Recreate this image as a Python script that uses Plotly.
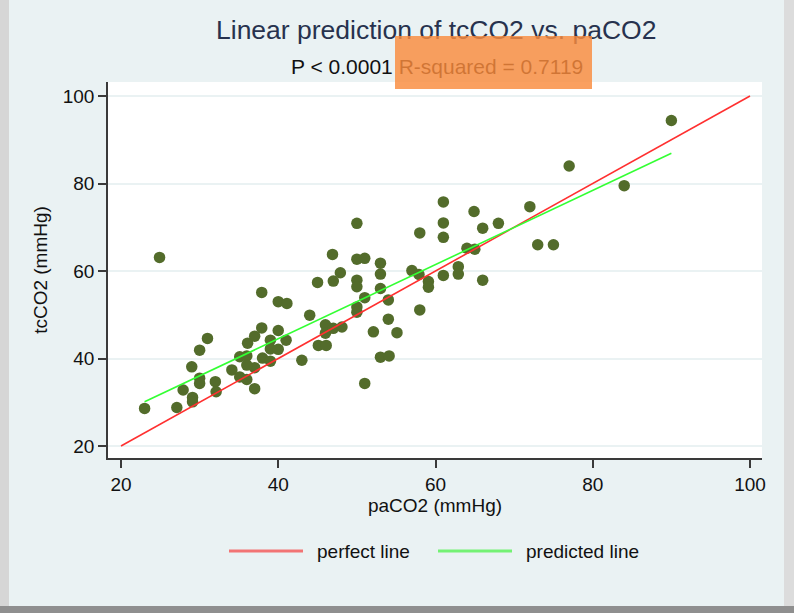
import plotly.graph_objects as go

# ---- data ----
paco2 = [23.0, 24.9, 27.1, 27.9, 29.0, 29.1, 29.1, 30.0, 30.0, 30.0,
         31.0, 32.0, 32.1, 34.1, 35.1, 36.0, 35.1, 36.0, 36.1, 37.0,
         37.9, 37.0, 37.0, 36.0, 37.9, 40.0, 41.1, 45.0, 47.0, 44.0,
         40.0, 39.0, 39.0, 41.0, 40.0, 38.0, 39.0, 43.0, 46.0, 46.0,
         47.0, 48.1, 45.1, 46.1, 46.9, 47.9, 50.0, 51.0, 53.0, 53.0,
         53.0, 50.0, 50.0, 51.0, 54.0, 50.0, 50.0, 54.0, 52.1, 55.1,
         57.0, 57.9, 58.0, 53.0, 54.1, 51.0, 50.0, 58.0, 61.0, 61.0,
         61.0, 64.9, 66.0, 68.0, 64.0, 65.0, 59.1, 59.1, 61.0, 62.9,
         62.9, 66.0, 72.0, 73.0, 75.0, 77.0, 84.0, 90.0]
tcco2 = [28.6, 63.1, 28.8, 32.8, 38.1, 31.1, 30.1, 35.5, 34.3, 41.9,
         44.6, 34.7, 32.4, 37.4, 40.4, 40.6, 35.8, 35.2, 43.5, 45.1,
         47.0, 33.1, 37.9, 38.5, 55.1, 53.0, 52.6, 57.4, 57.7, 49.9,
         46.4, 44.2, 42.2, 44.2, 42.1, 40.1, 39.4, 39.6, 47.7, 45.8,
         46.9, 47.2, 43.0, 43.0, 63.8, 59.6, 62.7, 62.9, 61.8, 59.3,
         56.0, 57.9, 56.4, 53.9, 53.4, 51.8, 50.6, 49.0, 46.1, 45.9,
         60.1, 59.2, 51.1, 40.3, 40.6, 34.3, 70.9, 68.7, 75.8, 71.0,
         67.7, 73.6, 69.8, 70.9, 65.2, 65.0, 57.6, 56.3, 59.0, 61.0,
         59.3, 57.9, 74.7, 66.0, 66.0, 84.0, 79.5, 94.4]
perfect_x = [20, 100]
perfect_y = [20, 100]
pred_x = [23, 90]
pred_y = [30.1, 86.9]
x_ticks = [20, 40, 60, 80, 100]
y_ticks = [20, 40, 60, 80, 100]

title_text = "Linear prediction of tcCO2 vs. paCO2"
p_text = "P < 0.0001"
r2_text = "R-squared = 0.7119"
x_title = "paCO2 (mmHg)"
y_title = "tcCO2 (mmHg)"
legend_names = ["perfect line", "predicted line"]

# ---- layout helpers (pixel -> paper) ----
W, H = 794, 613
PL, PR, PT, PB = 108, 762, 82, 458
def xp(px):
    return (px - PL) / (PR - PL)
def yp(py):
    return (PB - py) / (PB - PT)

FONT = "Liberation Sans, Arial, sans-serif"
BG = "#eaf2f3"
RED = "#ff3030"
GREEN = "#33ff33"
DOT = "#536c2b"

fig = go.Figure()
fig.add_trace(go.Scatter(x=paco2, y=tcco2, mode="markers",
                         marker=dict(color=DOT, size=11.5, line=dict(width=0)),
                         showlegend=False, hoverinfo="x+y"))
fig.add_trace(go.Scatter(x=perfect_x, y=perfect_y, mode="lines",
                         line=dict(color=RED, width=1.6), name=legend_names[0],
                         showlegend=False))
fig.add_trace(go.Scatter(x=pred_x, y=pred_y, mode="lines",
                         line=dict(color=GREEN, width=1.6), name=legend_names[1],
                         showlegend=False))

x_range = [20 + (PL - 121) / 7.8625, 20 + (PR - 121) / 7.8625]
y_range = [20 - (PB - 446) / 4.375, 20 + (446 - PT) / 4.375]

axis_common = dict(showline=True, linecolor="#3a3a3a", linewidth=1.5,
                   ticks="outside", ticklen=8, tickwidth=1.5, tickcolor="#3a3a3a",
                   zeroline=False,
                   tickfont=dict(family=FONT, size=19, color="#111111"))
fig.update_xaxes(range=x_range, tickvals=x_ticks, showgrid=False, **axis_common,
                 title=dict(text=x_title, font=dict(family=FONT, size=19, color="#111111"),
                            standoff=2))
fig.update_yaxes(range=y_range, tickvals=y_ticks, showgrid=True, gridcolor=BG,
                 gridwidth=1.5, **axis_common,
                 title=dict(text=y_title, font=dict(family=FONT, size=19, color="#111111"),
                            standoff=10))

shapes = []
# window frame decorations
shapes.append(dict(type="rect", xref="paper", yref="paper", x0=xp(0), x1=xp(9),
                   y0=yp(0), y1=yp(613), fillcolor="#d6d6d6", line=dict(width=0), layer="below"))
shapes.append(dict(type="rect", xref="paper", yref="paper", x0=xp(784), x1=xp(794),
                   y0=yp(0), y1=yp(613), fillcolor="#dcdcdc", line=dict(width=0), layer="below"))
shapes.append(dict(type="rect", xref="paper", yref="paper", x0=xp(0), x1=xp(794),
                   y0=yp(606), y1=yp(613), fillcolor="#8f8f8f", line=dict(width=0), layer="below"))
# manual legend lines
shapes.append(dict(type="line", xref="paper", yref="paper", x0=xp(229), x1=xp(303),
                   y0=yp(551), y1=yp(551), line=dict(color="#f27474", width=3)))
shapes.append(dict(type="line", xref="paper", yref="paper", x0=xp(438), x1=xp(512),
                   y0=yp(551), y1=yp(551), line=dict(color="#74f274", width=3)))

annotations = [
    dict(text=title_text, xref="paper", yref="paper", x=xp(436), y=yp(30),
         xanchor="center", yanchor="middle", showarrow=False,
         font=dict(family=FONT, size=26.5, color="#27324e")),
    dict(text=p_text + " " + r2_text, xref="paper", yref="paper", x=xp(437), y=yp(67),
         xanchor="center", yanchor="middle", showarrow=False,
         font=dict(family=FONT, size=21, color="#111111")),
    # translucent orange highlight over the R-squared text
    dict(text=" ", xref="paper", yref="paper", x=xp(395), y=yp(36),
         xanchor="left", yanchor="top", showarrow=False, width=197, height=53,
         bgcolor="rgb(250,140,62)", opacity=0.82, borderpad=0, borderwidth=0),
    dict(text=legend_names[0], xref="paper", yref="paper", x=xp(315), y=yp(551),
         xanchor="left", yanchor="middle", showarrow=False,
         font=dict(family=FONT, size=19, color="#111111")),
    dict(text=legend_names[1], xref="paper", yref="paper", x=xp(524), y=yp(551),
         xanchor="left", yanchor="middle", showarrow=False,
         font=dict(family=FONT, size=19, color="#111111")),
]

fig.update_layout(width=W, height=H, autosize=False,
                  margin=dict(l=PL, r=W - PR, t=PT, b=H - PB, pad=0),
                  paper_bgcolor=BG, plot_bgcolor="white",
                  shapes=shapes, annotations=annotations, showlegend=False,
                  font=dict(family=FONT))
fig.write_html("out.html")
